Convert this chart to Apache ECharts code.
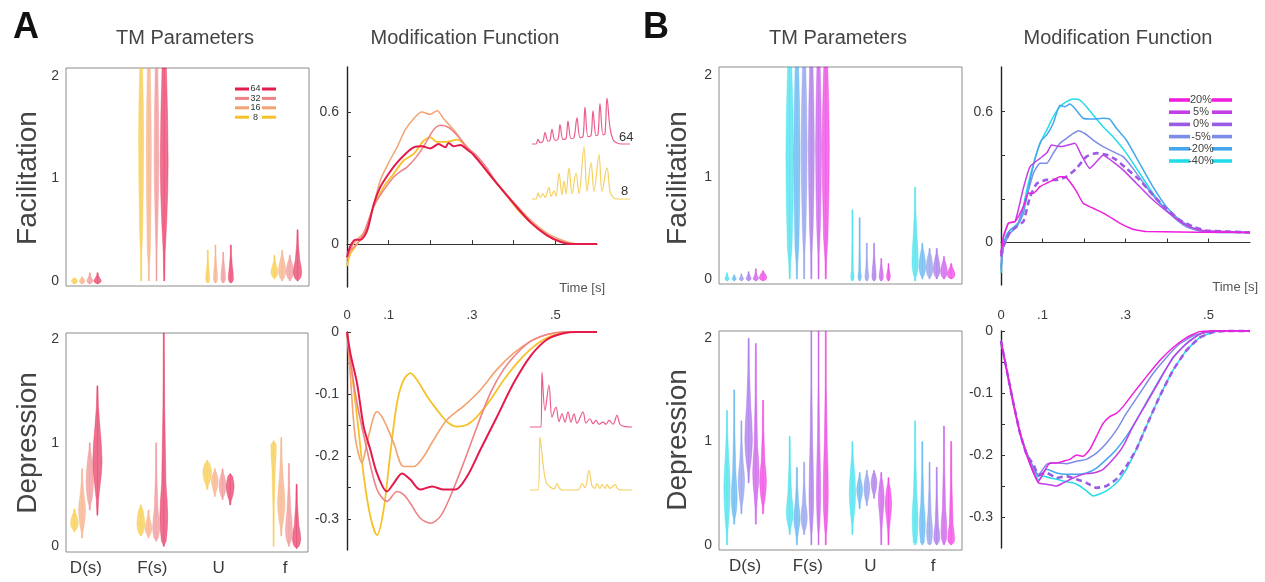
<!DOCTYPE html>
<html><head><meta charset="utf-8">
<script src="https://cdn.jsdelivr.net/npm/echarts@6/dist/echarts.min.js"></script>
<style>html,body{margin:0;padding:0;background:#fff}#c{width:1265px;height:582px}</style>
</head><body><div id="c"></div><script>
// ---------------- DATA ----------------
const paramLabels = ['D(s)', 'F(s)', 'U', 'f'];
const seriesA = ['8', '16', '32', '64'];            // violins left -> right
const colorsA = ['#F6C22A', '#F3A271', '#EE8285', '#E51A4C'];
const legendOrderA = [3, 2, 1, 0];                  // 64, 32, 16, 8 top -> bottom
const seriesB = ['-40%', '-20%', '-5%', '0%', '5%', '20%'];
const colorsB = ['#22DCEA', '#45A8EE', '#7D8CE6', '#9A5CE4', '#C23FE6', '#EE1FDD'];
const legendOrderB = [5, 4, 3, 2, 1, 0];           // 20% ... -40% top -> bottom
const facTickLabels = [0, 0.6];
const depTickLabels = [0, -0.1, -0.2, -0.3];
const timeTickLabels = [0, 0.1, 0.3, 0.5];
const tmTickLabels = [0, 1, 2];

// violin spec per parameter: [tailLow, bodyLow, densest, bodyHigh, tailHigh, relWidth]
const aFacViolins = [
  [[-0.03,-0.02,0.0,0.02,0.03,0.7], [0.0,0.5,1.4,2.1,2.1,0.55], [-0.02,-0.01,0.02,0.12,0.3,0.45], [0.02,0.04,0.08,0.15,0.25,0.75]],
  [[-0.03,-0.02,0.0,0.02,0.04,0.6], [0.0,0.3,1.3,2.1,2.1,0.55], [-0.02,-0.01,0.02,0.15,0.35,0.45], [0.0,0.03,0.1,0.2,0.3,0.8]],
  [[-0.03,-0.02,0.0,0.03,0.08,0.65], [0.0,0.6,1.2,2.1,2.1,0.5], [-0.02,-0.01,0.02,0.15,0.28,0.5], [0.0,0.03,0.09,0.18,0.25,0.8]],
  [[-0.03,-0.02,0.0,0.03,0.08,0.8], [0.0,0.55,1.15,2.1,2.1,0.85], [-0.02,-0.01,0.02,0.15,0.35,0.55], [0.0,0.02,0.08,0.2,0.5,0.9]]
];
const aDepViolins = [
  [[0.14,0.17,0.22,0.3,0.36,0.85], [0.1,0.13,0.22,0.35,0.4,0.85], [0.55,0.62,0.72,0.8,0.83,0.95], [0.0,0.75,0.97,1.0,1.02,0.6]],
  [[0.08,0.2,0.35,0.5,0.75,0.75], [0.08,0.12,0.17,0.25,0.35,0.75], [0.48,0.55,0.64,0.7,0.75,0.75], [0.1,0.25,0.42,0.65,1.05,0.8]],
  [[0.35,0.45,0.62,0.85,1.0,0.8], [0.05,0.08,0.18,0.35,1.0,0.75], [0.45,0.5,0.58,0.68,0.75,0.75], [0.0,0.05,0.15,0.35,0.8,0.75]],
  [[0.3,0.6,0.82,1.15,1.55,1.0], [0.0,0.05,0.28,0.6,2.1,0.85], [0.4,0.48,0.58,0.68,0.7,0.85], [-0.02,0.0,0.07,0.2,0.6,0.9]]
];
const bFacViolins = [
  [[-0.02,-0.01,0.0,0.02,0.06,0.55], [0.0,0.3,1.2,2.1,2.1,0.9], [-0.02,-0.01,0.02,0.08,0.68,0.4], [-0.02,0.05,0.15,0.45,0.9,0.75]],
  [[-0.02,-0.01,0.0,0.02,0.04,0.5], [0.0,0.3,1.2,2.1,2.1,0.75], [-0.02,-0.01,0.02,0.08,0.6,0.4], [0.0,0.04,0.12,0.25,0.35,0.8]],
  [[-0.02,-0.01,0.0,0.02,0.05,0.55], [0.0,0.5,1.3,2.1,2.1,0.7], [-0.02,-0.01,0.02,0.1,0.35,0.45], [0.0,0.03,0.1,0.22,0.3,0.8]],
  [[-0.02,-0.01,0.0,0.03,0.07,0.6], [0.0,0.5,1.3,2.1,2.1,0.7], [-0.02,-0.01,0.02,0.15,0.35,0.5], [0.0,0.03,0.09,0.2,0.3,0.8]],
  [[-0.02,-0.01,0.0,0.03,0.1,0.65], [0.0,0.5,1.3,2.1,2.1,0.7], [-0.02,-0.01,0.02,0.1,0.2,0.5], [0.0,0.02,0.07,0.15,0.22,0.8]],
  [[-0.02,-0.01,0.01,0.05,0.08,0.9], [0.0,0.4,1.3,2.1,2.1,0.85], [-0.02,-0.01,0.02,0.08,0.15,0.45], [0.0,0.01,0.04,0.1,0.15,0.9]]
];
const bDepViolins = [
  [[0.0,0.25,0.55,0.85,1.3,0.75], [0.1,0.2,0.3,0.5,1.05,0.8], [0.1,0.3,0.5,0.75,1.0,0.75], [0.0,0.02,0.25,0.5,1.2,0.7]],
  [[0.2,0.3,0.45,0.7,1.5,0.7], [0.0,0.15,0.25,0.4,0.75,0.75], [0.35,0.45,0.53,0.62,0.7,0.7], [0.0,0.02,0.2,0.4,1.0,0.7]],
  [[0.3,0.45,0.62,0.8,1.2,0.75], [0.1,0.17,0.27,0.4,0.8,0.75], [0.38,0.45,0.55,0.65,0.72,0.7], [0.0,0.01,0.12,0.3,0.8,0.7]],
  [[0.6,0.8,1.02,1.35,2.0,0.9], [0.0,0.2,0.45,1.0,2.1,0.55], [0.45,0.52,0.6,0.68,0.72,0.7], [0.0,0.0,0.07,0.2,0.75,0.7]],
  [[0.2,0.5,0.7,0.95,1.95,0.75], [0.0,0.2,0.5,1.0,2.1,0.5], [0.0,0.3,0.45,0.6,0.7,0.7], [0.0,0.0,0.12,0.35,1.15,0.7]],
  [[0.3,0.45,0.62,0.8,1.4,0.8], [0.0,0.2,0.5,1.0,2.1,0.6], [0.0,0.25,0.4,0.55,0.65,0.75], [0.0,0.0,0.05,0.2,1.0,0.8]]
];

// modification functions [time s, value]
const aFac8 = [[0,-0.10],[0.008,-0.045],[0.024,0.0],[0.04,0.04],[0.064,0.17],[0.088,0.26],[0.112,0.32],[0.136,0.38],[0.16,0.41],[0.184,0.47],[0.2,0.485],[0.216,0.465],[0.24,0.465],[0.264,0.475],[0.288,0.44],[0.312,0.39],[0.344,0.31],[0.376,0.24],[0.408,0.16],[0.44,0.10],[0.48,0.04],[0.52,0.008],[0.56,0],[0.6,0]];
const aFac16 = [[0,-0.07],[0.012,-0.01],[0.024,0.02],[0.04,0.05],[0.056,0.12],[0.08,0.29],[0.1,0.37],[0.12,0.44],[0.14,0.52],[0.16,0.57],[0.18,0.60],[0.2,0.59],[0.216,0.606],[0.232,0.57],[0.256,0.52],[0.28,0.46],[0.304,0.405],[0.328,0.35],[0.36,0.275],[0.4,0.19],[0.44,0.11],[0.48,0.05],[0.52,0.015],[0.544,0.003],[0.6,0]];
const aFac32 = [[0,-0.04],[0.024,0.0],[0.04,0.05],[0.064,0.17],[0.088,0.245],[0.112,0.305],[0.128,0.33],[0.144,0.35],[0.168,0.40],[0.192,0.47],[0.208,0.52],[0.224,0.54],[0.244,0.53],[0.264,0.495],[0.288,0.44],[0.312,0.40],[0.336,0.345],[0.36,0.275],[0.4,0.185],[0.44,0.10],[0.48,0.04],[0.52,0.01],[0.55,0],[0.6,0]];
const aFac64 = [[0,-0.06],[0.008,-0.01],[0.02,0.02],[0.032,0.02],[0.048,0.06],[0.064,0.18],[0.08,0.26],[0.1,0.32],[0.12,0.37],[0.14,0.41],[0.16,0.44],[0.18,0.445],[0.2,0.435],[0.22,0.455],[0.236,0.44],[0.244,0.46],[0.256,0.445],[0.272,0.45],[0.288,0.43],[0.304,0.405],[0.328,0.35],[0.36,0.275],[0.4,0.185],[0.44,0.10],[0.48,0.04],[0.512,0.01],[0.536,0],[0.6,0]];
const aDep8 = [[0,0],[0.008,-0.045],[0.024,-0.135],[0.04,-0.23],[0.056,-0.296],[0.072,-0.326],[0.088,-0.285],[0.104,-0.195],[0.12,-0.114],[0.136,-0.077],[0.152,-0.066],[0.168,-0.077],[0.192,-0.103],[0.216,-0.125],[0.24,-0.144],[0.264,-0.152],[0.288,-0.149],[0.312,-0.136],[0.344,-0.109],[0.376,-0.077],[0.408,-0.05],[0.44,-0.028],[0.472,-0.012],[0.504,-0.003],[0.536,0],[0.6,0]];
const aDep16 = [[0,0],[0.008,-0.07],[0.02,-0.17],[0.036,-0.21],[0.048,-0.178],[0.064,-0.136],[0.072,-0.128],[0.088,-0.141],[0.112,-0.178],[0.136,-0.216],[0.16,-0.216],[0.184,-0.2],[0.208,-0.173],[0.24,-0.141],[0.28,-0.119],[0.32,-0.093],[0.36,-0.06],[0.4,-0.034],[0.44,-0.015],[0.48,-0.004],[0.52,0],[0.6,0]];
const aDep32 = [[0,0],[0.008,-0.045],[0.024,-0.114],[0.048,-0.189],[0.072,-0.253],[0.096,-0.272],[0.12,-0.256],[0.136,-0.261],[0.152,-0.275],[0.176,-0.299],[0.2,-0.307],[0.224,-0.296],[0.248,-0.264],[0.28,-0.21],[0.312,-0.152],[0.344,-0.098],[0.376,-0.06],[0.408,-0.034],[0.44,-0.015],[0.48,-0.004],[0.52,0],[0.6,0]];
const aDep64 = [[0,0],[0.008,-0.034],[0.024,-0.082],[0.04,-0.152],[0.056,-0.189],[0.072,-0.227],[0.096,-0.256],[0.112,-0.243],[0.132,-0.227],[0.152,-0.237],[0.176,-0.253],[0.204,-0.248],[0.232,-0.253],[0.26,-0.253],[0.288,-0.232],[0.32,-0.189],[0.36,-0.136],[0.4,-0.082],[0.44,-0.039],[0.48,-0.012],[0.52,-0.002],[0.552,0],[0.6,0]];

const bFacN40 = [[0,-0.14],[0.005,-0.02],[0.014,0.04],[0.03,0.07],[0.046,0.10],[0.062,0.24],[0.078,0.36],[0.094,0.455],[0.11,0.515],[0.126,0.577],[0.142,0.623],[0.158,0.646],[0.174,0.658],[0.19,0.653],[0.206,0.623],[0.222,0.585],[0.246,0.531],[0.27,0.485],[0.302,0.41],[0.334,0.318],[0.366,0.226],[0.398,0.15],[0.43,0.096],[0.462,0.066],[0.494,0.05],[0.526,0.046],[0.6,0.046]];
const bFacN20 = [[0,-0.11],[0.006,-0.003],[0.022,0.058],[0.038,0.073],[0.054,0.134],[0.07,0.287],[0.086,0.41],[0.098,0.47],[0.11,0.493],[0.126,0.547],[0.142,0.63],[0.154,0.623],[0.166,0.635],[0.178,0.615],[0.198,0.57],[0.222,0.566],[0.246,0.57],[0.262,0.566],[0.278,0.524],[0.302,0.47],[0.334,0.363],[0.366,0.256],[0.398,0.165],[0.43,0.104],[0.462,0.066],[0.494,0.05],[0.6,0.046]];
const bFacN5 = [[0,-0.125],[0.006,-0.018],[0.022,0.043],[0.038,0.073],[0.062,0.21],[0.078,0.318],[0.094,0.363],[0.11,0.363],[0.126,0.41],[0.142,0.455],[0.158,0.478],[0.174,0.5],[0.186,0.513],[0.202,0.5],[0.222,0.47],[0.246,0.44],[0.27,0.417],[0.294,0.394],[0.318,0.34],[0.35,0.256],[0.382,0.18],[0.414,0.12],[0.446,0.073],[0.478,0.053],[0.6,0.046]];
const bFac0 = [[0,-0.064],[0.006,-0.018],[0.022,0.05],[0.038,0.073],[0.054,0.096],[0.07,0.21],[0.086,0.27],[0.11,0.287],[0.134,0.287],[0.158,0.302],[0.182,0.34],[0.206,0.394],[0.23,0.41],[0.254,0.402],[0.278,0.379],[0.302,0.34],[0.334,0.287],[0.366,0.218],[0.398,0.157],[0.43,0.104],[0.462,0.073],[0.494,0.055],[0.6,0.046]];
const bFac5 = [[0,-0.05],[0.006,0.027],[0.018,0.089],[0.034,0.096],[0.054,0.25],[0.07,0.348],[0.094,0.386],[0.11,0.41],[0.122,0.447],[0.134,0.443],[0.146,0.44],[0.162,0.447],[0.178,0.455],[0.194,0.40],[0.214,0.34],[0.23,0.37],[0.246,0.40],[0.27,0.37],[0.294,0.333],[0.326,0.272],[0.358,0.21],[0.39,0.157],[0.422,0.11],[0.454,0.073],[0.486,0.055],[0.6,0.046]];
const bFac20 = [[0,-0.05],[0.006,0.027],[0.018,0.089],[0.034,0.096],[0.054,0.165],[0.066,0.226],[0.078,0.226],[0.094,0.256],[0.11,0.272],[0.126,0.287],[0.142,0.302],[0.154,0.302],[0.166,0.279],[0.182,0.234],[0.198,0.18],[0.222,0.157],[0.254,0.127],[0.286,0.089],[0.318,0.061],[0.35,0.05],[0.6,0.046]];

const bDepN40 = [[0,-0.016],[0.014,-0.064],[0.03,-0.117],[0.046,-0.165],[0.062,-0.197],[0.078,-0.223],[0.09,-0.24],[0.102,-0.234],[0.118,-0.237],[0.134,-0.239],[0.15,-0.242],[0.174,-0.245],[0.19,-0.25],[0.206,-0.258],[0.222,-0.266],[0.238,-0.263],[0.254,-0.258],[0.27,-0.25],[0.286,-0.239],[0.302,-0.223],[0.326,-0.191],[0.35,-0.154],[0.382,-0.106],[0.414,-0.064],[0.446,-0.032],[0.478,-0.011],[0.51,-0.002],[0.54,0],[0.6,0]];
const bDepN20 = [[0,-0.016],[0.014,-0.064],[0.03,-0.117],[0.046,-0.165],[0.062,-0.197],[0.078,-0.22],[0.09,-0.235],[0.11,-0.223],[0.134,-0.229],[0.158,-0.231],[0.182,-0.231],[0.206,-0.229],[0.23,-0.221],[0.254,-0.207],[0.278,-0.191],[0.302,-0.17],[0.326,-0.144],[0.358,-0.106],[0.39,-0.069],[0.422,-0.037],[0.454,-0.016],[0.486,-0.003],[0.51,0],[0.6,0]];
const bDepN5 = [[0,-0.016],[0.014,-0.064],[0.03,-0.117],[0.046,-0.165],[0.062,-0.197],[0.078,-0.22],[0.09,-0.232],[0.11,-0.215],[0.134,-0.213],[0.158,-0.214],[0.182,-0.21],[0.206,-0.207],[0.23,-0.197],[0.254,-0.181],[0.278,-0.16],[0.302,-0.133],[0.334,-0.101],[0.366,-0.069],[0.398,-0.043],[0.43,-0.021],[0.462,-0.008],[0.494,-0.002],[0.52,0],[0.6,0]];
const bDep0 = [[0,-0.016],[0.014,-0.064],[0.03,-0.117],[0.046,-0.165],[0.062,-0.2],[0.078,-0.215],[0.09,-0.232],[0.11,-0.229],[0.134,-0.237],[0.158,-0.234],[0.182,-0.239],[0.206,-0.245],[0.23,-0.253],[0.254,-0.25],[0.278,-0.239],[0.302,-0.218],[0.326,-0.191],[0.35,-0.154],[0.382,-0.106],[0.414,-0.064],[0.446,-0.032],[0.478,-0.011],[0.51,-0.002],[0.54,0],[0.6,0]];
const bDep5 = [[0,-0.016],[0.014,-0.064],[0.03,-0.117],[0.046,-0.165],[0.062,-0.2],[0.078,-0.228],[0.09,-0.245],[0.11,-0.247],[0.134,-0.25],[0.15,-0.245],[0.174,-0.237],[0.198,-0.231],[0.222,-0.229],[0.246,-0.223],[0.27,-0.207],[0.294,-0.186],[0.318,-0.154],[0.35,-0.117],[0.382,-0.08],[0.414,-0.043],[0.446,-0.021],[0.478,-0.005],[0.51,0],[0.6,0]];
const bDep20 = [[0,-0.016],[0.014,-0.064],[0.03,-0.117],[0.046,-0.165],[0.062,-0.2],[0.078,-0.228],[0.09,-0.243],[0.102,-0.229],[0.118,-0.213],[0.134,-0.213],[0.15,-0.21],[0.166,-0.207],[0.182,-0.2],[0.198,-0.202],[0.214,-0.191],[0.23,-0.17],[0.246,-0.149],[0.262,-0.138],[0.278,-0.133],[0.294,-0.122],[0.318,-0.101],[0.35,-0.074],[0.382,-0.048],[0.414,-0.027],[0.446,-0.011],[0.478,-0.001],[0.51,0],[0.6,0]];

// example response traces (inset) [time units, normalised response]
const traceFac64 = [[0,0],[4,0],[6,0.1],[8,0.03],[11,0.06],[13,0.25],[16,0.06],[18,0.08],[20,0.32],[23,0.08],[26,0.1],[28,0.42],[31,0.1],[34,0.12],[36,0.5],[39,0.12],[42,0.14],[45,0.57],[48,0.14],[51,0.16],[53,0.8],[56,0.16],[59,0.18],[61,0.72],[64,0.18],[66,0.2],[68,0.88],[71,0.2],[73,0.22],[75,1.0],[78,0.35],[81,0.1],[85,0.02],[90,0],[98,0]];
const traceFac8 = [[0,0],[4,0],[6,0.12],[8,0.03],[11,0.1],[13,0.03],[17,0.22],[19,0.05],[22,0.15],[24,0.05],[27,0.5],[30,0.08],[32,0.35],[34,0.1],[37,0.6],[40,0.1],[44,0.5],[47,0.1],[52,1.0],[55,0.15],[59,0.7],[62,0.15],[67,0.85],[70,0.15],[75,0.6],[78,0.15],[81,0.03],[85,0],[98,0]];
const traceDep64 = [[0,0],[11,0],[12,1.0],[15,0.3],[19,0.76],[22,0.18],[26,0.36],[29,0.1],[32,0.24],[35,0.09],[38,0.27],[41,0.09],[44,0.24],[47,0.07],[53,0.27],[56,0.07],[60,0.15],[63,0.06],[66,0.12],[69,0.05],[73,0.09],[76,0.05],[79,0.12],[83,0.05],[87,0.21],[90,0.05],[94,0.01],[102,0]];
const traceDep8 = [[0,0],[8,0],[10,1.0],[13,0.5],[16,0.15],[20,0.06],[24,0.02],[27,0.12],[30,0.02],[34,0],[48,0],[52,0.12],[55,0.04],[59,0.37],[62,0.08],[65,0.03],[67,0.12],[70,0.03],[72,0.1],[75,0.03],[77,0.1],[80,0.03],[85,0.1],[88,0.02],[92,0],[102,0]];
const traceLabels = ['64', '8'];

// ---------------- CHART ----------------
const FONT = '"Liberation Sans", Arial, sans-serif';
const TXT = '#3a3a3a';
const chart = echarts.init(document.getElementById('c'), null, {renderer: 'canvas'});

const grids = [
  {left: 66, top: 68, width: 243, height: 218},   // 0 A TM fac
  {left: 66, top: 333, width: 242, height: 219},  // 1 A TM dep
  {left: 347, top: 67, width: 250, height: 220},  // 2 A MF fac
  {left: 347, top: 332, width: 250, height: 218}, // 3 A MF dep
  {left: 719, top: 67, width: 243, height: 217},  // 4 B TM fac
  {left: 719, top: 331, width: 243, height: 219}, // 5 B TM dep
  {left: 1001, top: 67, width: 249, height: 218}, // 6 B MF fac
  {left: 1001, top: 331, width: 249, height: 217},// 7 B MF dep
  {left: 532, top: 98, width: 98, height: 46},    // 8 inset fac 64
  {left: 532, top: 147, width: 98, height: 52},   // 9 inset fac 8
  {left: 530, top: 372, width: 102, height: 55},  // 10 inset dep 64
  {left: 530, top: 437, width: 102, height: 53}   // 11 inset dep 8
];
grids.forEach((g, i) => {
  g.containLabel = false;
  if (i === 0 || i === 1 || i === 4 || i === 5) { g.show = true; g.borderColor = '#8c8c8c'; g.borderWidth = 1; }
});

const tmY = [[-0.05, 2.08], [-0.055, 2.06], null, null, [-0.05, 2.08], [-0.05, 2.07]];
const tmX = {0: [0.7, 4.345], 1: [0.7, 4.345], 4: [0.585, 4.46], 5: [0.585, 4.46]};

const xAxes = [], yAxes = [];
for (let i = 0; i < grids.length; i++) {
  if (tmX[i]) {
    const bottomRow = (i === 1 || i === 5);
    xAxes.push({gridIndex: i, type: 'value', min: tmX[i][0], max: tmX[i][1],
      axisLine: {show: false}, axisTick: {show: false}, splitLine: {show: false},
      axisLabel: {show: bottomRow, customValues: [1, 2, 3, 4], formatter: v => paramLabels[Math.round(v) - 1] || '',
        color: TXT, fontSize: 17, fontFamily: FONT, margin: 8}});
    yAxes.push({gridIndex: i, type: 'value', min: tmY[i][0], max: tmY[i][1],
      axisLine: {show: false}, axisTick: {show: false}, splitLine: {show: false},
      axisLabel: {customValues: tmTickLabels, color: TXT, fontSize: 14, fontFamily: FONT, margin: 7}});
  } else if (i === 2 || i === 6) {
    xAxes.push({gridIndex: i, type: 'value', min: 0, max: 0.6, position: 'bottom', offset: i === 2 ? 14 : 16,
      axisLine: {show: true, lineStyle: {color: '#333', width: 1.2}},
      axisTick: {show: true, inside: true, length: 4, customValues: [0, 0.1, 0.2, 0.3, 0.4, 0.5], lineStyle: {color: '#333'}},
      splitLine: {show: false},
      axisLabel: {customValues: timeTickLabels, formatter: v => v === 0 ? '0' : '.' + Math.round(v * 10),
        color: TXT, fontSize: 13, fontFamily: FONT, margin: 8}});
    yAxes.push({gridIndex: i, type: 'value', min: -0.195, max: 0.805,
      axisLine: {show: true, lineStyle: {color: '#222', width: 1.4}},
      axisTick: {show: true, inside: true, length: 4, customValues: [0, 0.2, 0.4, 0.6], lineStyle: {color: '#333'}},
      splitLine: {show: false},
      axisLabel: {customValues: facTickLabels, formatter: v => String(v), color: TXT, fontSize: 14, fontFamily: FONT, margin: 8}});
  } else if (i === 3 || i === 7) {
    xAxes.push({gridIndex: i, type: 'value', min: 0, max: 0.6, show: false});
    yAxes.push({gridIndex: i, type: 'value', min: -0.35, max: 0,
      axisLine: {show: true, lineStyle: {color: '#222', width: 1.4}},
      axisTick: {show: true, inside: true, length: 4, customValues: [0, -0.05, -0.1, -0.15, -0.2, -0.25, -0.3], lineStyle: {color: '#333'}},
      splitLine: {show: false},
      axisLabel: {customValues: depTickLabels, formatter: v => String(v), color: TXT, fontSize: 14, fontFamily: FONT, margin: 8}});
  } else {
    xAxes.push({gridIndex: i, type: 'value', min: 0, max: grids[i].width, show: false});
    yAxes.push({gridIndex: i, type: 'value', min: 0, max: 1, show: false});
  }
}

const series = [];
function addViolins(gridIdx, rows, colors, spacing, halfMax) {
  const yMin = tmY[gridIdx][0], yMax = tmY[gridIdx][1];
  const n = rows.length;
  rows.forEach((specs, k) => {
    const color = colors[k];
    series.push({
      type: 'custom', xAxisIndex: gridIdx, yAxisIndex: gridIdx, z: 3,
      data: specs.map((s, i) => [i + 1].concat(s)),
      renderItem: (params, api) => {
        const x = api.value(0) + (k - (n - 1) / 2) * spacing;
        const tl = api.value(1), bl = api.value(2), md = api.value(3), bh = api.value(4), th = api.value(5), w = api.value(6);
        const prof = [[tl, 0.1], [(tl + bl) / 2, 0.24], [bl, 0.6], [(bl + md) / 2, 0.88], [md, 1], [(md + bh) / 2, 0.85], [bh, 0.55], [(bh + th) / 2, 0.22], [th, 0.1]];
        const cl = v => Math.max(yMin, Math.min(yMax, v));
        const right = [], left = [];
        let lastY = null;
        prof.forEach(([v, f]) => {
          const p = api.coord([x, cl(v)]);
          if (lastY !== null && Math.abs(p[1] - lastY) < 0.4) return;
          lastY = p[1];
          const hw = Math.max(0.5, f * w * halfMax);
          right.push([p[0] + hw, p[1]]); left.push([p[0] - hw, p[1]]);
        });
        const pts = right.concat(left.reverse());
        const c0 = api.coord([x, cl(tl)]), c1 = api.coord([x, cl(th)]);
        return {type: 'group', children: [
          {type: 'line', shape: {x1: c0[0], y1: c0[1], x2: c1[0], y2: c1[1]}, style: {stroke: color, lineWidth: 0.8, opacity: 0.35}},
          {type: 'polygon', shape: {points: pts}, style: {fill: color, opacity: 0.62, stroke: color, lineWidth: 0.6}}
        ]};
      }
    });
  });
}
addViolins(0, aFacViolins, colorsA, 0.1155, 4.6);
addViolins(1, aDepViolins, colorsA, 0.1155, 4.6);
addViolins(4, bFacViolins, colorsB, 0.115, 4.2);
addViolins(5, bDepViolins, colorsB, 0.115, 4.2);

function addLine(gridIdx, data, color, width, dashed, smooth, name) {
  series.push({type: 'line', name: name, xAxisIndex: gridIdx, yAxisIndex: gridIdx, data: data,
    showSymbol: false, symbol: 'none', smooth: smooth, z: 4, clip: false,
    lineStyle: {color: color, width: width, type: dashed ? [6, 4] : 'solid'}});
}
// A
addLine(2, aFac8, colorsA[0], 1.8, false, 0.3, '8');
addLine(2, aFac16, colorsA[1], 1.5, false, 0.3, '16');
addLine(2, aFac32, colorsA[2], 1.5, false, 0.3, '32');
addLine(2, aFac64, colorsA[3], 2, false, 0.3, '64');
addLine(3, aDep8, colorsA[0], 1.8, false, 0.3, '8');
addLine(3, aDep16, colorsA[1], 1.6, false, 0.3, '16');
addLine(3, aDep32, colorsA[2], 1.6, false, 0.3, '32');
addLine(3, aDep64, colorsA[3], 2, false, 0.3, '64');
// B
const bFacLines = [bFacN40, bFacN20, bFacN5, bFac0, bFac5, bFac20];
const bDepLines = [bDepN40, bDepN20, bDepN5, bDep0, bDep5, bDep20];
bFacLines.forEach((d, k) => addLine(6, d, colorsB[k], k === 3 ? 2.6 : 1.5, k === 3, 0.15, seriesB[k]));
bDepLines.forEach((d, k) => addLine(7, d, colorsB[k], k === 3 ? 2.6 : 1.5, k === 3, 0.15, seriesB[k]));
// insets
addLine(8, traceFac64, '#EC5E8C', 1.2, false, 0.35, 'trace64');
addLine(9, traceFac8, '#F6D060', 1.2, false, 0.35, 'trace8');
addLine(10, traceDep64, '#EC5E8C', 1.2, false, 0.35, 'traceD64');
addLine(11, traceDep8, '#F6D060', 1.2, false, 0.35, 'traceD8');

// ---------------- TEXT / LEGENDS ----------------
const graphic = [];
function txt(x, y, text, size, opts) {
  opts = opts || {};
  graphic.push({type: 'text', x: x, y: y, rotation: opts.rot || 0, z: 10,
    style: {text: text, fill: opts.color || '#444', font: (opts.weight || 'normal') + ' ' + size + 'px ' + FONT,
      textAlign: opts.align || 'center', textVerticalAlign: 'middle', textBaseline: 'middle'}});
}
txt(26, 28, 'A', 36, {weight: 'bold', color: '#111'});
txt(656, 28, 'B', 36, {weight: 'bold', color: '#111'});
txt(185, 38, 'TM Parameters', 20);
txt(465, 38, 'Modification Function', 20);
txt(838, 38, 'TM Parameters', 20);
txt(1118, 38, 'Modification Function', 20);
txt(28, 178, 'Facilitation', 28, {rot: Math.PI / 2});
txt(28, 443, 'Depression', 28, {rot: Math.PI / 2});
txt(678, 178, 'Facilitation', 28, {rot: Math.PI / 2});
txt(678, 440, 'Depression', 28, {rot: Math.PI / 2});
txt(605, 288, 'Time [s]', 13, {align: 'right', color: '#555'});
txt(1258, 287, 'Time [s]', 13, {align: 'right', color: '#555'});
txt(619, 137, traceLabels[0], 13, {align: 'left', color: '#333'});
txt(621, 191, traceLabels[1], 13, {align: 'left', color: '#333'});

legendOrderA.forEach((k, r) => {
  const y = 89 + r * 9.4;
  graphic.push({type: 'rect', shape: {x: 235, y: y - 1.5, width: 14, height: 3}, style: {fill: colorsA[k]}, z: 10});
  graphic.push({type: 'rect', shape: {x: 262, y: y - 1.5, width: 14, height: 3}, style: {fill: colorsA[k]}, z: 10});
  txt(255.5, y, seriesA[k], 9, {color: '#333'});
});
legendOrderB.forEach((k, r) => {
  const y = 100 + r * 12.2;
  graphic.push({type: 'rect', shape: {x: 1169, y: y - 1.8, width: 21, height: 3.6}, style: {fill: colorsB[k]}, z: 10});
  graphic.push({type: 'rect', shape: {x: 1212, y: y - 1.8, width: 20, height: 3.6}, style: {fill: colorsB[k]}, z: 10});
  txt(1201, y, seriesB[k], 11, {color: '#444'});
});

chart.setOption({
  animation: false,
  backgroundColor: '#fff',
  textStyle: {fontFamily: FONT},
  grid: grids, xAxis: xAxes, yAxis: yAxes, series: series, graphic: graphic
});
</script></body></html>
